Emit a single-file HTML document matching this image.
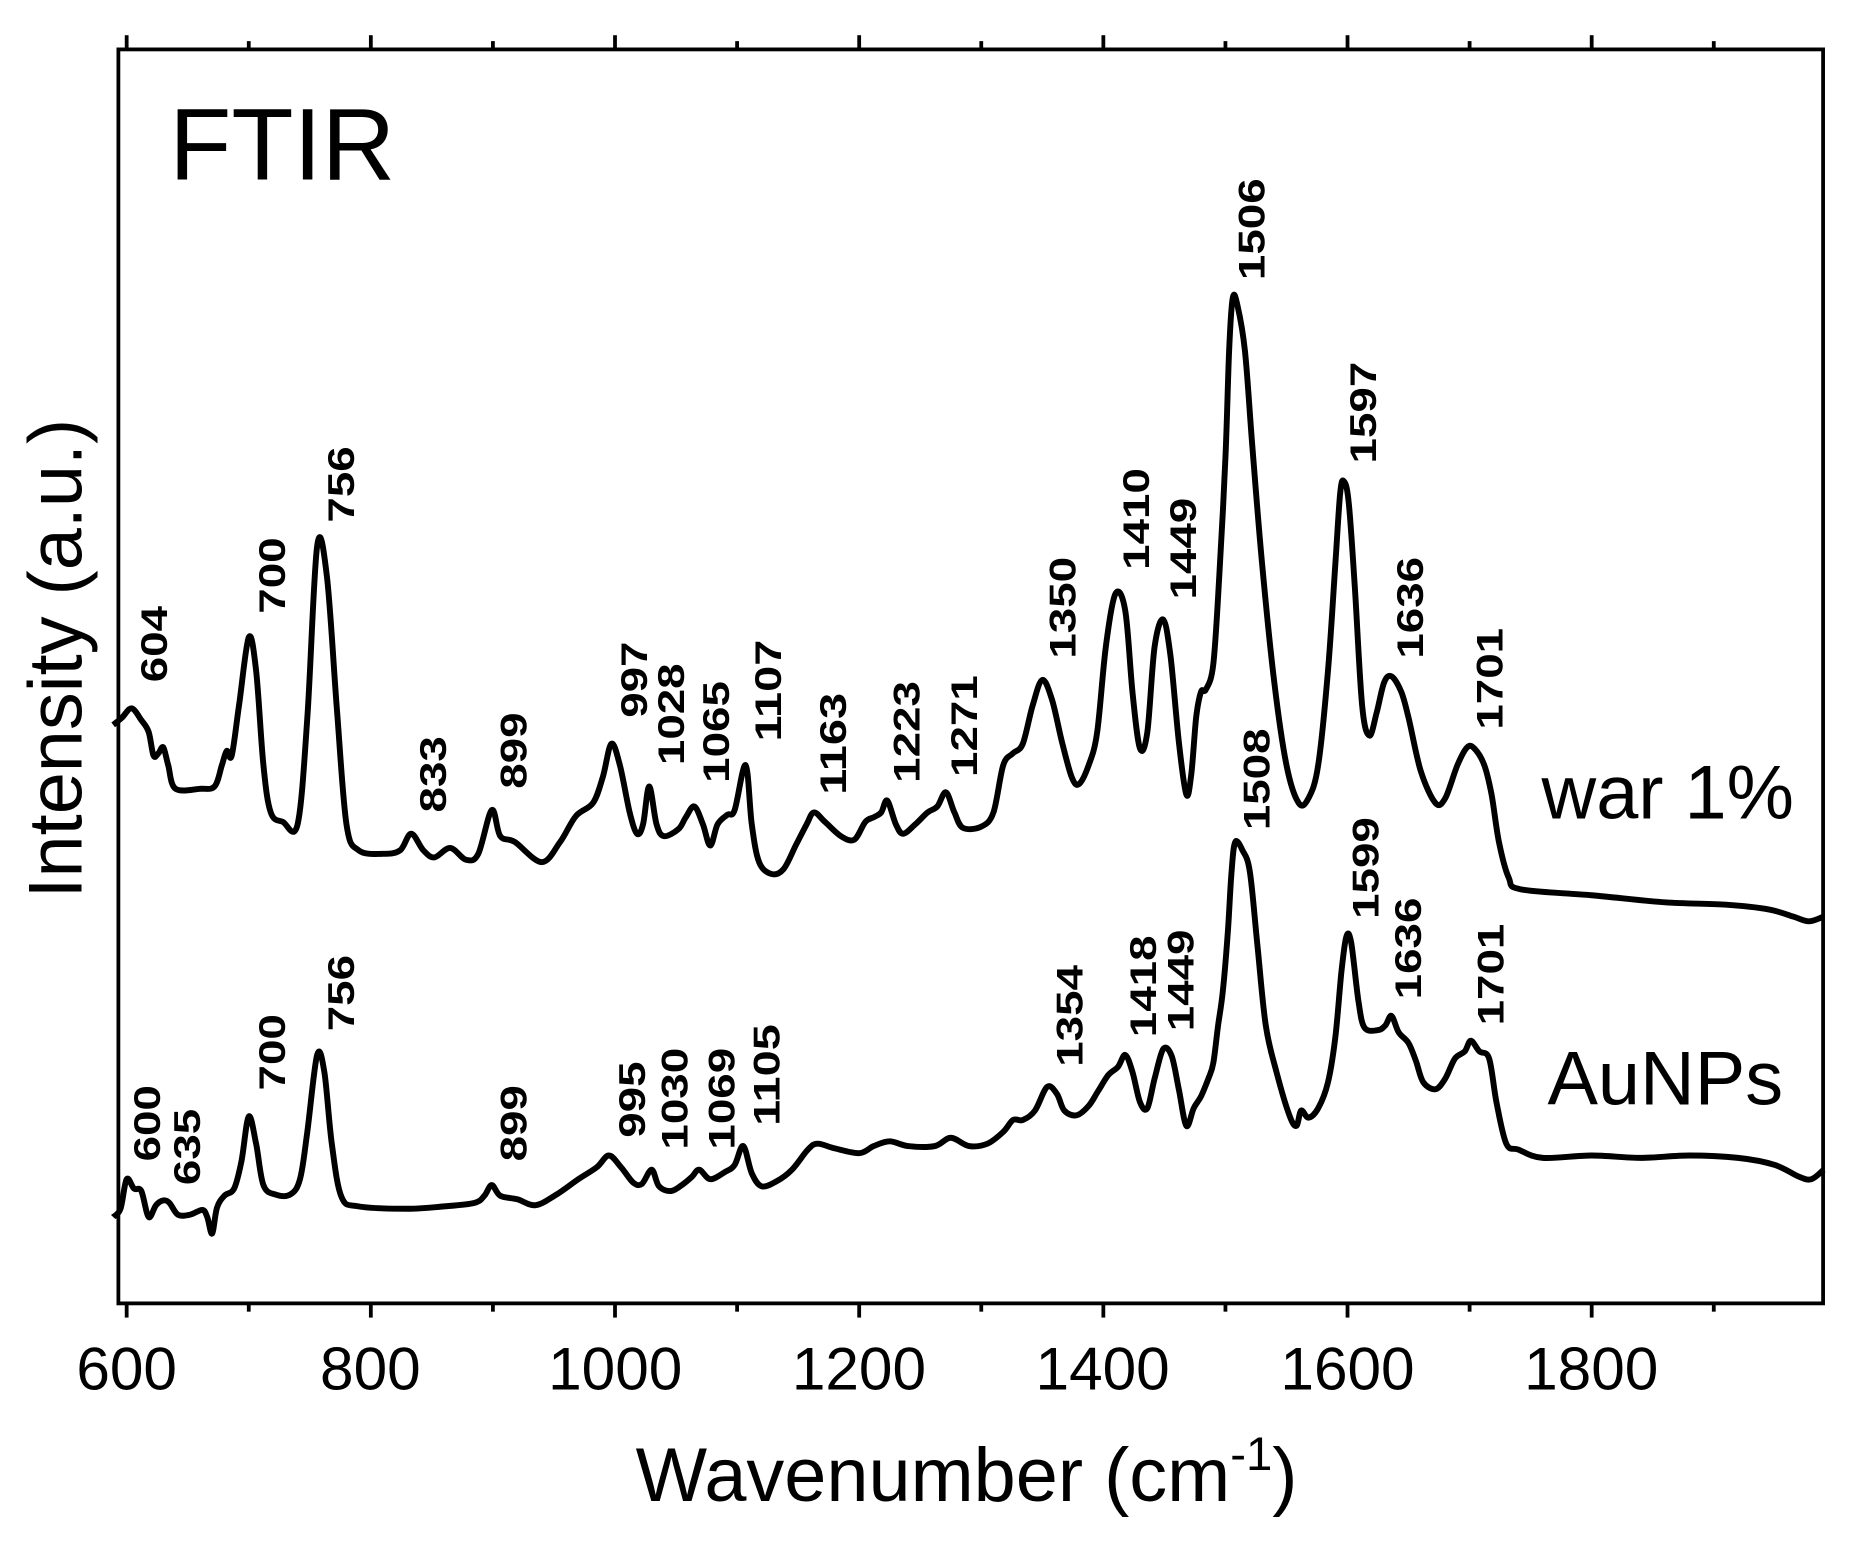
<!DOCTYPE html>
<html><head><meta charset="utf-8"><style>
html,body{margin:0;padding:0;background:#fff}
svg{display:block}
text{font-family:"Liberation Sans",Arial,sans-serif;fill:#000}
.pk{font-weight:bold;font-size:31px}
</style></head><body>
<svg id="s" width="1864" height="1546" viewBox="0 0 1864 1546" xmlns="http://www.w3.org/2000/svg">
<rect width="1864" height="1546" fill="#fff"/>
<g transform="translate(6,8) scale(1.183)">
<rect x="95" y="35" width="1441" height="1060" fill="none" stroke="#000" stroke-width="3.2"/>
<g id="ticks" stroke="#000" stroke-width="3.2"></g>
<path id="war" fill="none" stroke="#000" stroke-width="5" stroke-linejoin="round"/>
<path id="au" fill="none" stroke="#000" stroke-width="5" stroke-linejoin="round"/>
<g font-size="51">
<text x="102" y="1168" text-anchor="middle">600</text>
<text x="308" y="1168" text-anchor="middle">800</text>
<text x="515" y="1168" text-anchor="middle">1000</text>
<text x="721" y="1168" text-anchor="middle">1200</text>
<text x="927" y="1168" text-anchor="middle">1400</text>
<text x="1134" y="1168" text-anchor="middle">1600</text>
<text x="1340" y="1168" text-anchor="middle">1800</text>
</g>
<text x="812" y="1262" font-size="64" text-anchor="middle">Wavenumber (cm<tspan font-size="40" dy="-26">-1</tspan><tspan dy="26">)</tspan></text>
<text transform="translate(64,550) rotate(-90)" font-size="64" text-anchor="middle">Intensity (a.u.)</text>
<text x="138" y="145" font-size="86">FTIR</text>
<text x="1298" y="685" font-size="64">war 1%</text>
<text x="1303" y="927" font-size="64">AuNPs</text>
<g class="pk" id="labels">
<text transform="translate(136,570) rotate(-90)">604</text>
<text transform="translate(236,512) rotate(-90)">700</text>
<text transform="translate(294,435) rotate(-90)">756</text>
<text transform="translate(372,680) rotate(-90)">833</text>
<text transform="translate(440,660) rotate(-90)">899</text>
<text transform="translate(542,600) rotate(-90)">997</text>
<text transform="translate(573,640) rotate(-90)">1028</text>
<text transform="translate(611,655) rotate(-90)">1065</text>
<text transform="translate(655,620) rotate(-90)">1107</text>
<text transform="translate(710,665) rotate(-90)">1163</text>
<text transform="translate(772,655) rotate(-90)">1223</text>
<text transform="translate(821,650) rotate(-90)">1271</text>
<text transform="translate(904,550) rotate(-90)">1350</text>
<text transform="translate(966,475) rotate(-90)">1410</text>
<text transform="translate(1006,500) rotate(-90)">1449</text>
<text transform="translate(1064,230) rotate(-90)">1506</text>
<text transform="translate(1158,385) rotate(-90)">1597</text>
<text transform="translate(1198,550) rotate(-90)">1636</text>
<text transform="translate(1265,610) rotate(-90)">1701</text>
<text transform="translate(130,975) rotate(-90)">600</text>
<text transform="translate(164,995) rotate(-90)">635</text>
<text transform="translate(236,915) rotate(-90)">700</text>
<text transform="translate(294,865) rotate(-90)">756</text>
<text transform="translate(440,975) rotate(-90)">899</text>
<text transform="translate(540,955) rotate(-90)">995</text>
<text transform="translate(576,965) rotate(-90)">1030</text>
<text transform="translate(616,965) rotate(-90)">1069</text>
<text transform="translate(654,945) rotate(-90)">1105</text>
<text transform="translate(910,895) rotate(-90)">1354</text>
<text transform="translate(972,870) rotate(-90)">1418</text>
<text transform="translate(1004,865) rotate(-90)">1449</text>
<text transform="translate(1068,695) rotate(-90)">1508</text>
<text transform="translate(1160,770) rotate(-90)">1599</text>
<text transform="translate(1196,838) rotate(-90)">1636</text>
<text transform="translate(1266,860) rotate(-90)">1701</text>
</g>
</g>
</svg>
<script>
function X(w){return 102+(w-600)*1.032;}
var war=[[589,606],[596,600],[604,592],[612,602],[618,612],[622,632],[626,630],[630,625],[634,640],[640,660],[660,660],[672,658],[678,640],[682,628],[686,632],[692,590],[700,532],[706,560],[712,640],[718,680],[728,688],[740,690],[748,600],[756,455],[764,480],[772,590],[780,690],[790,712],[810,715],[824,712],[833,698],[843,712],[852,718],[865,710],[878,720],[888,715],[899,678],[906,700],[918,705],[940,722],[955,705],[968,683],[982,672],[990,650],[997,622],[1004,640],[1012,680],[1018,698],[1023,690],[1028,658],[1034,690],[1040,700],[1052,694],[1058,684],[1065,675],[1072,690],[1078,708],[1084,690],[1092,682],[1098,678],[1107,640],[1112,690],[1118,722],[1128,732],[1138,728],[1148,708],[1157,690],[1163,680],[1172,688],[1185,700],[1196,703],[1205,688],[1212,684],[1218,680],[1223,670],[1230,690],[1236,698],[1246,690],[1256,680],[1264,675],[1271,663],[1278,680],[1285,693],[1300,692],[1310,680],[1318,640],[1326,630],[1334,622],[1342,590],[1350,568],[1358,585],[1366,620],[1374,650],[1380,656],[1388,640],[1395,612],[1402,540],[1410,495],[1418,510],[1424,580],[1430,626],[1436,612],[1442,540],[1449,517],[1455,548],[1462,622],[1468,665],[1472,648],[1476,600],[1480,578],[1484,576],[1490,555],[1495,480],[1500,380],[1503,290],[1506,245],[1510,252],[1516,290],[1522,370],[1530,470],[1540,570],[1550,640],[1560,672],[1568,668],[1576,640],[1584,560],[1590,470],[1594,410],[1597,400],[1601,418],[1606,490],[1612,590],[1618,615],[1624,595],[1630,570],[1636,565],[1644,578],[1650,600],[1660,645],[1672,672],[1680,668],[1690,640],[1698,625],[1704,626],[1712,640],[1718,665],[1724,705],[1732,735],[1742,745],[1800,750],[1860,756],[1910,758],[1945,762],[1965,768],[1978,772],[1990,768]];
var au=[[589,1022],[595,1015],[600,990],[606,998],[612,1000],[618,1022],[624,1012],[630,1008],[635,1010],[642,1020],[652,1020],[662,1016],[666,1022],[670,1036],[674,1014],[680,1004],[688,998],[694,975],[700,937],[706,960],[712,995],[722,1003],[734,1003],[742,990],[748,950],[756,885],[762,900],[768,960],[776,1005],[790,1013],[830,1015],[860,1013],[885,1010],[893,1004],[899,995],[906,1004],[920,1007],[935,1012],[952,1003],[970,990],[985,980],[995,970],[1005,980],[1015,993],[1022,994],[1030,982],[1036,996],[1046,1000],[1056,994],[1063,988],[1069,982],[1078,990],[1090,984],[1098,978],[1105,962],[1112,985],[1120,996],[1132,992],[1145,982],[1158,965],[1166,960],[1180,964],[1200,968],[1212,962],[1225,958],[1240,962],[1262,962],[1275,955],[1290,962],[1305,960],[1318,950],[1326,940],[1334,940],[1344,932],[1354,912],[1362,918],[1368,932],[1378,936],[1388,928],[1396,915],[1404,902],[1412,895],[1418,885],[1424,900],[1430,925],[1436,930],[1442,905],[1449,880],[1456,886],[1462,915],[1468,945],[1474,930],[1480,920],[1486,905],[1490,892],[1494,860],[1498,830],[1502,780],[1505,730],[1508,705],[1514,712],[1520,730],[1526,790],[1533,860],[1542,900],[1552,935],[1558,945],[1562,932],[1568,938],[1576,930],[1584,908],[1590,870],[1595,815],[1599,785],[1603,790],[1609,840],[1614,862],[1625,864],[1631,860],[1636,852],[1642,866],[1650,875],[1656,890],[1662,908],[1672,914],[1680,905],[1688,888],[1696,882],[1701,873],[1708,882],[1716,888],[1722,925],[1730,960],[1740,965],[1760,972],[1800,970],[1840,972],[1880,970],[1920,972],[1950,978],[1970,988],[1980,990],[1990,982]];
function path(a){var p=a.map(function(q){return [X(q[0]),q[1]];});var d="M"+p[0][0].toFixed(1)+" "+p[0][1];
for(var i=0;i<p.length-1;i++){var p0=p[i-1]||p[i],p1=p[i],p2=p[i+1],p3=p[i+2]||p2;
var c1x=p1[0]+(p2[0]-p0[0])/6,c1y=p1[1]+(p2[1]-p0[1])/6,c2x=p2[0]-(p3[0]-p1[0])/6,c2y=p2[1]-(p3[1]-p1[1])/6;
d+=" C"+c1x.toFixed(1)+" "+c1y.toFixed(1)+" "+c2x.toFixed(1)+" "+c2y.toFixed(1)+" "+p2[0].toFixed(1)+" "+p2[1];}
return d;}
document.getElementById("war").setAttribute("d",path(war));
document.getElementById("au").setAttribute("d",path(au));
var g=document.getElementById("ticks"),s="";
for(var w=600;w<=1900;w+=100){var x=X(w),L=(w%200==0)?12:7;
s+='<line x1="'+x+'" y1="35" x2="'+x+'" y2="'+(35-L)+'"/><line x1="'+x+'" y1="1095" x2="'+x+'" y2="'+(1095+L)+'"/>';}
g.innerHTML=s;
document.querySelectorAll("#labels text").forEach(function(t){var n=t.textContent.length;t.setAttribute("textLength",n*21.5);t.setAttribute("lengthAdjust","spacingAndGlyphs");});
</script>
</body></html>
